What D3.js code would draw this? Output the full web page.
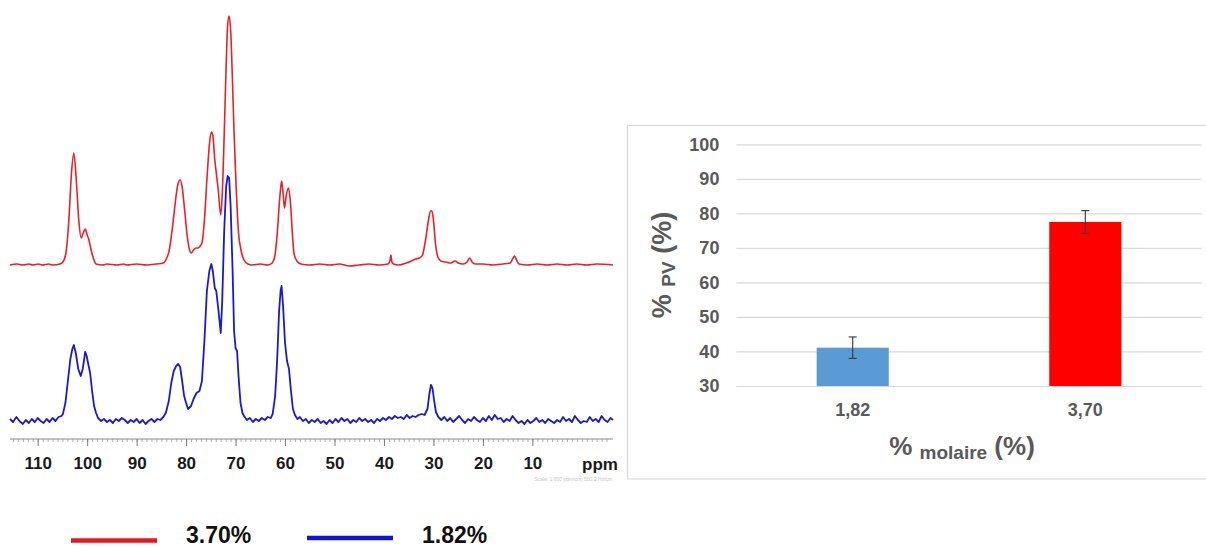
<!DOCTYPE html>
<html><head><meta charset="utf-8">
<script src="https://cdn.jsdelivr.net/npm/d3@7"></script>
<style>
html,body{margin:0;padding:0;background:#fff;}
svg{display:block;font-family:"Liberation Sans",Arial,sans-serif;}
</style></head>
<body><svg id="c" width="1206" height="547"></svg>
<script>
// ---------- DATA ----------
// NMR spectrum, 3.70 % sample: [ppm, intensity]
const red370 = [[115.6,0],[114.2,1],[113,0],[111.8,1],[111,0],[109.8,1],[109,0],[107.8,1],[107,0],[105.5,1],[104.9,3],[104.3,12],[103.7,45],[103.2,90],[102.7,112],[102.2,85],[101.7,45],[101.2,27],[100.8,32],[100.4,36],[100.0,30],[99.7,26],[99.2,15],[98.7,6],[98.2,1],[96.8,0],[96,1],[94,0],[92.6,1],[92,0],[90,1],[88,0],[86,1],[84.6,2],[84.1,5],[83.4,15],[82.7,40],[82.0,70],[81.6,82],[81.2,85],[80.8,78],[80.3,55],[79.8,30],[79.3,15],[79.0,12],[78.5,15],[78.0,17],[77.6,17],[77.3,18],[76.8,22],[76.3,45],[75.8,85],[75.3,120],[74.9,133],[74.6,130],[74.2,105],[73.9,92],[73.5,75],[73.0,50],[72.7,70],[72.3,130],[71.9,200],[71.6,240],[71.3,249],[71.0,235],[70.6,180],[70.3,132],[69.9,80],[69.4,32],[68.9,15],[68.3,5],[67.5,1],[66.7,0],[65,1],[63.5,0],[62.6,2],[62.1,8],[61.6,30],[61.1,65],[60.7,84],[60.4,72],[60.1,57],[59.8,68],[59.3,77],[58.9,62],[58.5,30],[58.2,12],[57.6,4],[56.8,1],[55,0],[53,1],[51,0],[49,1],[47,-1],[45,0],[43,1],[41,0],[39.2,1],[38.8,4],[38.6,10],[38.4,3],[38.1,1],[37,0],[35.5,2],[34.5,4],[33.6,6],[32.8,7],[32.2,10],[31.6,25],[31.0,45],[30.6,54],[30.3,54],[30.0,45],[29.6,22],[29.1,8],[28.5,4],[27.5,3],[26.5,2],[25.6,4],[25.0,2],[24.0,1],[23.2,3],[22.7,7],[22.2,3],[21.5,1],[20,1],[18,0],[16,1],[14.5,2],[14.0,6],[13.6,9],[13.2,5],[12.7,1],[11,0],[9,1],[7,0],[5,1],[3,0],[1,1],[-1,0],[-3,1],[-6.3,0]];
// NMR spectrum, 1.82 % sample: [ppm, intensity]
const blue182 = [[115.6,2],[115.0,-1],[114.3,4],[113.7,0],[113.0,-3],[112.4,1],[111.8,-2],[111.2,2],[110.6,-1],[110.0,3],[109.4,0],[108.8,-2],[108.2,2],[107.6,-1],[107.0,3],[106.4,0],[105.8,4],[105.2,5],[104.9,7],[104.4,18],[103.9,40],[103.4,62],[103.0,72],[102.7,76],[102.3,68],[101.8,52],[101.3,45],[100.9,52],[100.6,62],[100.4,69],[100.1,65],[99.7,55],[99.4,48],[99.0,30],[98.6,15],[98.2,8],[97.8,3],[97.2,0],[96.6,2],[96.0,-1],[95.4,1],[94.8,-2],[94.2,2],[93.6,0],[93.0,3],[92.4,1],[91.8,-2],[91.2,1],[90.6,-1],[90.0,2],[89.4,-2],[88.8,1],[88.2,-3],[87.6,0],[87.0,2],[86.4,-1],[85.8,2],[85.2,1],[84.6,4],[84.1,8],[83.5,20],[83.0,38],[82.5,50],[82.0,55],[81.6,57],[81.2,54],[80.8,40],[80.4,25],[80.0,18],[79.6,12],[79.0,15],[78.5,22],[77.9,28],[77.3,30],[76.8,40],[76.3,80],[75.8,130],[75.3,150],[74.9,157],[74.6,150],[74.2,133],[73.9,130],[73.4,108],[73.0,88],[72.7,120],[72.3,190],[71.9,235],[71.6,245],[71.3,243],[71.0,215],[70.6,150],[70.3,90],[70.0,73],[69.7,70],[69.4,45],[69.0,18],[68.6,8],[68.3,5],[67.7,1],[67.1,3],[66.5,-1],[65.9,2],[65.3,0],[64.7,3],[64.1,1],[63.5,4],[62.9,3],[62.5,7],[62.0,25],[61.6,60],[61.2,110],[60.9,130],[60.7,135],[60.4,115],[60.0,78],[59.6,60],[59.2,52],[58.8,30],[58.4,12],[58.0,6],[57.5,2],[57.0,4],[56.4,0],[55.8,2],[55.2,-2],[54.6,1],[54.0,-1],[53.4,2],[52.8,-2],[52.2,0],[51.6,-3],[51.0,1],[50.4,-2],[49.8,2],[49.2,-1],[48.6,3],[48.0,0],[47.4,2],[46.8,-2],[46.2,1],[45.6,-1],[45.0,3],[44.4,0],[43.8,2],[43.2,-1],[42.6,1],[42.0,-2],[41.4,2],[40.8,0],[40.2,3],[39.6,1],[39.0,4],[38.4,2],[37.8,5],[37.2,3],[36.6,4],[36.0,2],[35.4,6],[34.8,3],[34.2,5],[33.6,4],[33.0,6],[32.4,7],[31.8,6],[31.2,12],[30.8,28],[30.5,36],[30.2,33],[29.9,22],[29.5,9],[29.0,4],[28.4,1],[27.8,4],[27.2,0],[26.6,3],[26.0,-1],[25.4,2],[24.8,5],[24.2,1],[23.6,-2],[23.0,2],[22.4,0],[21.8,4],[21.2,1],[20.6,-1],[20.0,3],[19.4,0],[18.8,5],[18.2,1],[17.6,6],[17.0,2],[16.4,3],[15.8,-1],[15.2,2],[14.6,0],[14.0,5],[13.4,1],[12.8,-2],[12.2,0],[11.6,-3],[11.0,1],[10.4,-2],[9.8,0],[9.2,3],[8.6,-1],[8.0,1],[7.4,-2],[6.8,2],[6.2,0],[5.6,-2],[5.0,1],[4.4,-1],[3.8,4],[3.2,0],[2.6,2],[2.0,-1],[1.4,5],[0.8,1],[0.2,-2],[-0.4,0],[-1.0,-1],[-1.6,4],[-2.2,0],[-2.8,2],[-3.4,-1],[-4.0,5],[-4.6,1],[-5.2,-1],[-5.8,3],[-6.3,1]];
const spectrumOffsets = [156, 0];       // vertical stacking of red / blue traces (intensity units)
const ppmTicks = [110,100,90,80,70,60,50,40,30,20,10];
const legendLabels = ["3.70%", "1.82%"];

// Bar chart
const molaireCats = ["1,82", "3,70"];
const pvValues = [41.1, 77.5];
const pvErrors = [3.1, 3.3];
const pvTicks = [30,40,50,60,70,80,90,100];

// ---------- STYLE ----------
const RED = "#e8202a", BLUE = "#1818d8";
const barColors = ["#5b9bd5", "#ff0000"];
const GRAY_TXT = "#595959";

const svg = d3.select("#c");
svg.append("rect").attr("width",1206).attr("height",547).attr("fill","#fff");

// ---------- NMR PANEL ----------
const xPpm = d3.scaleLinear().domain([115.6, -6.3]).range([10, 613]);
const yInt = d3.scaleLinear().domain([0, 421]).range([421, 0]);

const traces = [red370, blue182];
const traceColors = [RED, BLUE];
traces.forEach((tr, i) => {
  const line = d3.line()
    .x(d => xPpm(d[0]))
    .y(d => yInt(d[1] + spectrumOffsets[i]))
    .curve(i === 0 ? d3.curveMonotoneX : d3.curveLinear);
  svg.append("path").datum(tr)
    .attr("d", line).attr("fill","none")
    .attr("stroke", traceColors[i]).attr("stroke-width", i === 0 ? 1.6 : 1.8)
    .attr("stroke-linejoin","round");
});

// ppm axis
const axY = 439;
const minorTicks = d3.range(115, -6, -1);
const gMinor = svg.append("g").attr("transform", `translate(0,${axY})`)
  .call(d3.axisBottom(xPpm).tickValues(minorTicks).tickSize(3).tickFormat(""));
gMinor.select(".domain").attr("stroke","#8a8a8a").attr("d", `M10,0H613`);
gMinor.selectAll(".tick line").attr("stroke","#9a9a9a").attr("stroke-width",0.8);
const gMajor = svg.append("g").attr("transform", `translate(0,${axY})`)
  .call(d3.axisBottom(xPpm).tickValues(ppmTicks).tickSize(7).tickPadding(11));
gMajor.select(".domain").remove();
gMajor.selectAll(".tick line").attr("stroke","#7a7a7a").attr("stroke-width",1);
gMajor.selectAll(".tick text")
  .attr("font-family","Liberation Sans, Arial, sans-serif")
  .attr("font-size",17).attr("font-weight","bold").attr("fill","#1a1a1a");
svg.append("text").attr("x", 600).attr("y", 469.5).attr("text-anchor","middle")
  .attr("font-size",17).attr("font-weight","bold").attr("fill","#1a1a1a").text("ppm");
svg.append("text").attr("x", 612).attr("y", 481).attr("text-anchor","end")
  .attr("font-size",5).attr("fill","#c4c4c4").text("Scale: 1.000 ppm/cm; 500.2 Hz/cm");

// legend
const legX = [71, 307];
legendLabels.forEach((lab, i) => {
  const ly = i === 0 ? 540.5 : 538;
  svg.append("line").attr("x1", legX[i]).attr("x2", legX[i] + 86)
    .attr("y1", ly).attr("y2", ly)
    .attr("stroke", i === 0 ? "#e8141e" : "#1212d8").attr("stroke-width", 4.5);
  svg.append("text").attr("x", legX[i] + 115).attr("y", 543)
    .attr("font-size", 23).attr("font-weight","bold").attr("fill","#111").text(lab);
});

// ---------- BAR PANEL ----------
svg.append("rect").attr("x",627.5).attr("y",125.5).attr("width",600).attr("height",353.5)
  .attr("fill","#fff").attr("stroke","#d9d9d9").attr("stroke-width",1.2);

const yBar = d3.scaleLinear().domain([30,100]).range([386,144.3]);
const xBar = d3.scaleBand().domain(molaireCats).range([736.4,1201.6])
  .paddingInner(0.69).paddingOuter(0.345);

// gridlines
const gGrid = svg.append("g").attr("transform","translate(736.4,0)")
  .call(d3.axisLeft(yBar).tickValues(pvTicks).tickSize(-(1201.6-736.4)).tickFormat(""));
gGrid.select(".domain").remove();
gGrid.selectAll(".tick line").attr("stroke","#d9d9d9").attr("stroke-width",1.2);

// y tick labels
const gY = svg.append("g").attr("transform","translate(736.4,0)")
  .call(d3.axisLeft(yBar).tickValues(pvTicks).tickSize(0).tickPadding(17));
gY.select(".domain").remove();
gY.selectAll(".tick text").attr("font-family","Liberation Sans, Arial, sans-serif")
  .attr("font-size",18).attr("font-weight","bold").attr("fill",GRAY_TXT);

// bars
svg.append("g").selectAll("rect").data(molaireCats).join("rect")
  .attr("x", d => xBar(d)).attr("width", xBar.bandwidth())
  .attr("y", (d,i) => yBar(pvValues[i]))
  .attr("height", (d,i) => yBar(30) - yBar(pvValues[i]))
  .attr("fill", (d,i) => barColors[i]);

// error bars
const gErr = svg.append("g").attr("stroke","#404040").attr("stroke-width",1.2);
molaireCats.forEach((c, i) => {
  const cx = xBar(c) + xBar.bandwidth()/2;
  const y1 = yBar(pvValues[i] + pvErrors[i]), y2 = yBar(pvValues[i] - pvErrors[i]);
  gErr.append("line").attr("x1",cx).attr("x2",cx).attr("y1",y1).attr("y2",y2);
  gErr.append("line").attr("x1",cx-4).attr("x2",cx+4).attr("y1",y1).attr("y2",y1);
  gErr.append("line").attr("x1",cx-4).attr("x2",cx+4).attr("y1",y2).attr("y2",y2);
});

// x category labels
const gX = svg.append("g").attr("transform","translate(0,386)")
  .call(d3.axisBottom(xBar).tickSize(0).tickPadding(17));
gX.select(".domain").remove();
gX.selectAll(".tick text").attr("font-family","Liberation Sans, Arial, sans-serif")
  .attr("font-size",18).attr("font-weight","bold").attr("fill",GRAY_TXT);

// x title
const xt = svg.append("text").attr("x", 962).attr("y", 455).attr("text-anchor","middle")
  .attr("fill",GRAY_TXT).attr("font-weight","bold");
xt.append("tspan").attr("font-size",26).text("% ");
xt.append("tspan").attr("font-size",19).attr("dy",4).text("molaire");
xt.append("tspan").attr("font-size",26).attr("dy",-4).text(" (%)");

// y title
const yt = svg.append("text").attr("transform","translate(671,265) rotate(-90)")
  .attr("text-anchor","middle").attr("fill",GRAY_TXT).attr("font-weight","bold");
yt.append("tspan").attr("font-size",27).text("% ");
yt.append("tspan").attr("font-size",19).attr("dy",4).text("PV");
yt.append("tspan").attr("font-size",27).attr("dy",-4).text(" (%)");
</script>
</body></html>
